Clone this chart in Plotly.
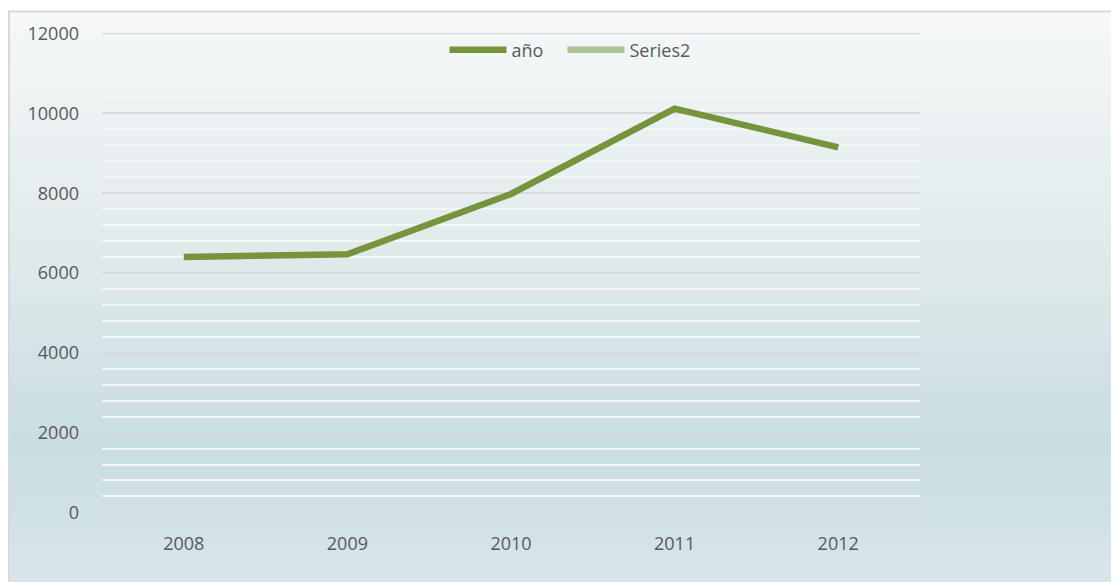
import plotly.graph_objects as go

# --- data ---
years = ['2008', '2009', '2010', '2011', '2012']
anio = [6400, 6470, 7980, 10120, 9150]
series2 = [None, None, None, None, None]
y_ticks = [0, 2000, 4000, 6000, 8000, 10000, 12000]
y_labels = ['0', '2000', '4000', '6000', '8000', '10000', '12000']

# the page body adds an 8px margin, so work in page px minus 8
OFF = 8
W, H = 1119 - OFF, 582 - OFF
L, R, T, B = 102 - OFF, 920 - OFF, 33 - OFF, 513 - OFF   # plot area in px


def px_x(p):
    return (p - L) / (R - L)


def px_y(p):
    return (B - p) / (B - T)


def hex2rgb(h):
    h = h.lstrip('#')
    return tuple(int(h[i:i + 2], 16) for i in (0, 2, 4))


# gradient stops (fraction from top, colour)
stops = [(0.0, '#f6f8f9'), (0.45, '#dee9ea'), (0.75, '#c9dde1'), (1.0, '#d7e6ea')]


def grad_color(t):
    for (t0, c0), (t1, c1) in zip(stops[:-1], stops[1:]):
        if t <= t1:
            a = (t - t0) / (t1 - t0)
            r0, g0, b0 = hex2rgb(c0)
            r1, g1, b1 = hex2rgb(c1)
            return 'rgb(%d,%d,%d)' % (round(r0 + (r1 - r0) * a),
                                       round(g0 + (g1 - g0) * a),
                                       round(b0 + (b1 - b0) * a))
    return stops[-1][1]


shapes = []
top_px, bot_px, left_px, right_px = 11 - OFF, H + 2, 0, W + 2
n = 90
for i in range(n):
    y0 = top_px + (bot_px - top_px) * i / n
    y1 = top_px + (bot_px - top_px) * (i + 1) / n + 0.6
    shapes.append(dict(type='rect', xref='paper', yref='paper', layer='below',
                       x0=px_x(left_px), x1=px_x(right_px), y0=px_y(y1), y1=px_y(y0),
                       fillcolor=grad_color((i + 0.5) / n), line=dict(width=0)))
# chart border (only top and left visible in the reference)
shapes.append(dict(type='rect', xref='paper', yref='paper', layer='below',
                   x0=px_x(left_px + 1), x1=px_x(right_px + 5), y0=px_y(bot_px + 5), y1=px_y(top_px + 0.5),
                   fillcolor='rgba(0,0,0,0)', line=dict(color='#d9d9d9', width=2)))
# plotly drops the gridlines that sit on the plot edges, so draw those two
for v in (y_ticks[0], y_ticks[-1]):
    shapes.append(dict(type='line', xref='paper', yref='y', layer='below',
                       x0=0, x1=1, y0=v, y1=v, line=dict(color='#d9d9d9', width=1.5)))

fig = go.Figure()
fig.add_trace(go.Scatter(
    x=years, y=anio, name='año\u00a0\u00a0\u00a0', mode='lines',
    line=dict(color='#77933c', width=6.5),
))
fig.add_trace(go.Scatter(
    x=years, y=series2, name='Series2', mode='lines',
    line=dict(color='#adc395', width=6.5),
))

font_fam = 'Open Sans, Lato, sans-serif'
fig.update_layout(
    width=W, height=H,
    margin=dict(l=L, r=W - R, t=T, b=H - B, pad=0),
    paper_bgcolor='white',
    plot_bgcolor='rgba(0,0,0,0)',
    font=dict(family=font_fam, size=18, color='#595959'),
    shapes=shapes,
    showlegend=True,
    legend=dict(orientation='h', x=px_x(570 - OFF), y=px_y(50 - OFF), xanchor='center', yanchor='middle',
                bgcolor='rgba(0,0,0,0)', font=dict(size=18, color='#595959'),
                itemwidth=57, tracegroupgap=0),
    xaxis=dict(type='category', range=[-0.5, 4.5], showgrid=False, zeroline=False,
               showline=False, ticks='', ticklabelstandoff=18, fixedrange=True),
    yaxis=dict(range=[-15, 12015], tickvals=y_ticks, ticktext=y_labels, showline=False, zeroline=False,
               showgrid=True, gridcolor='#d9d9d9', gridwidth=1.5,
               ticklabelstandoff=22, fixedrange=True,
               minor=dict(dtick=400, showgrid=True, gridcolor='#f4f6f6', gridwidth=1.5)),
)

fig.write_html('out.html')
